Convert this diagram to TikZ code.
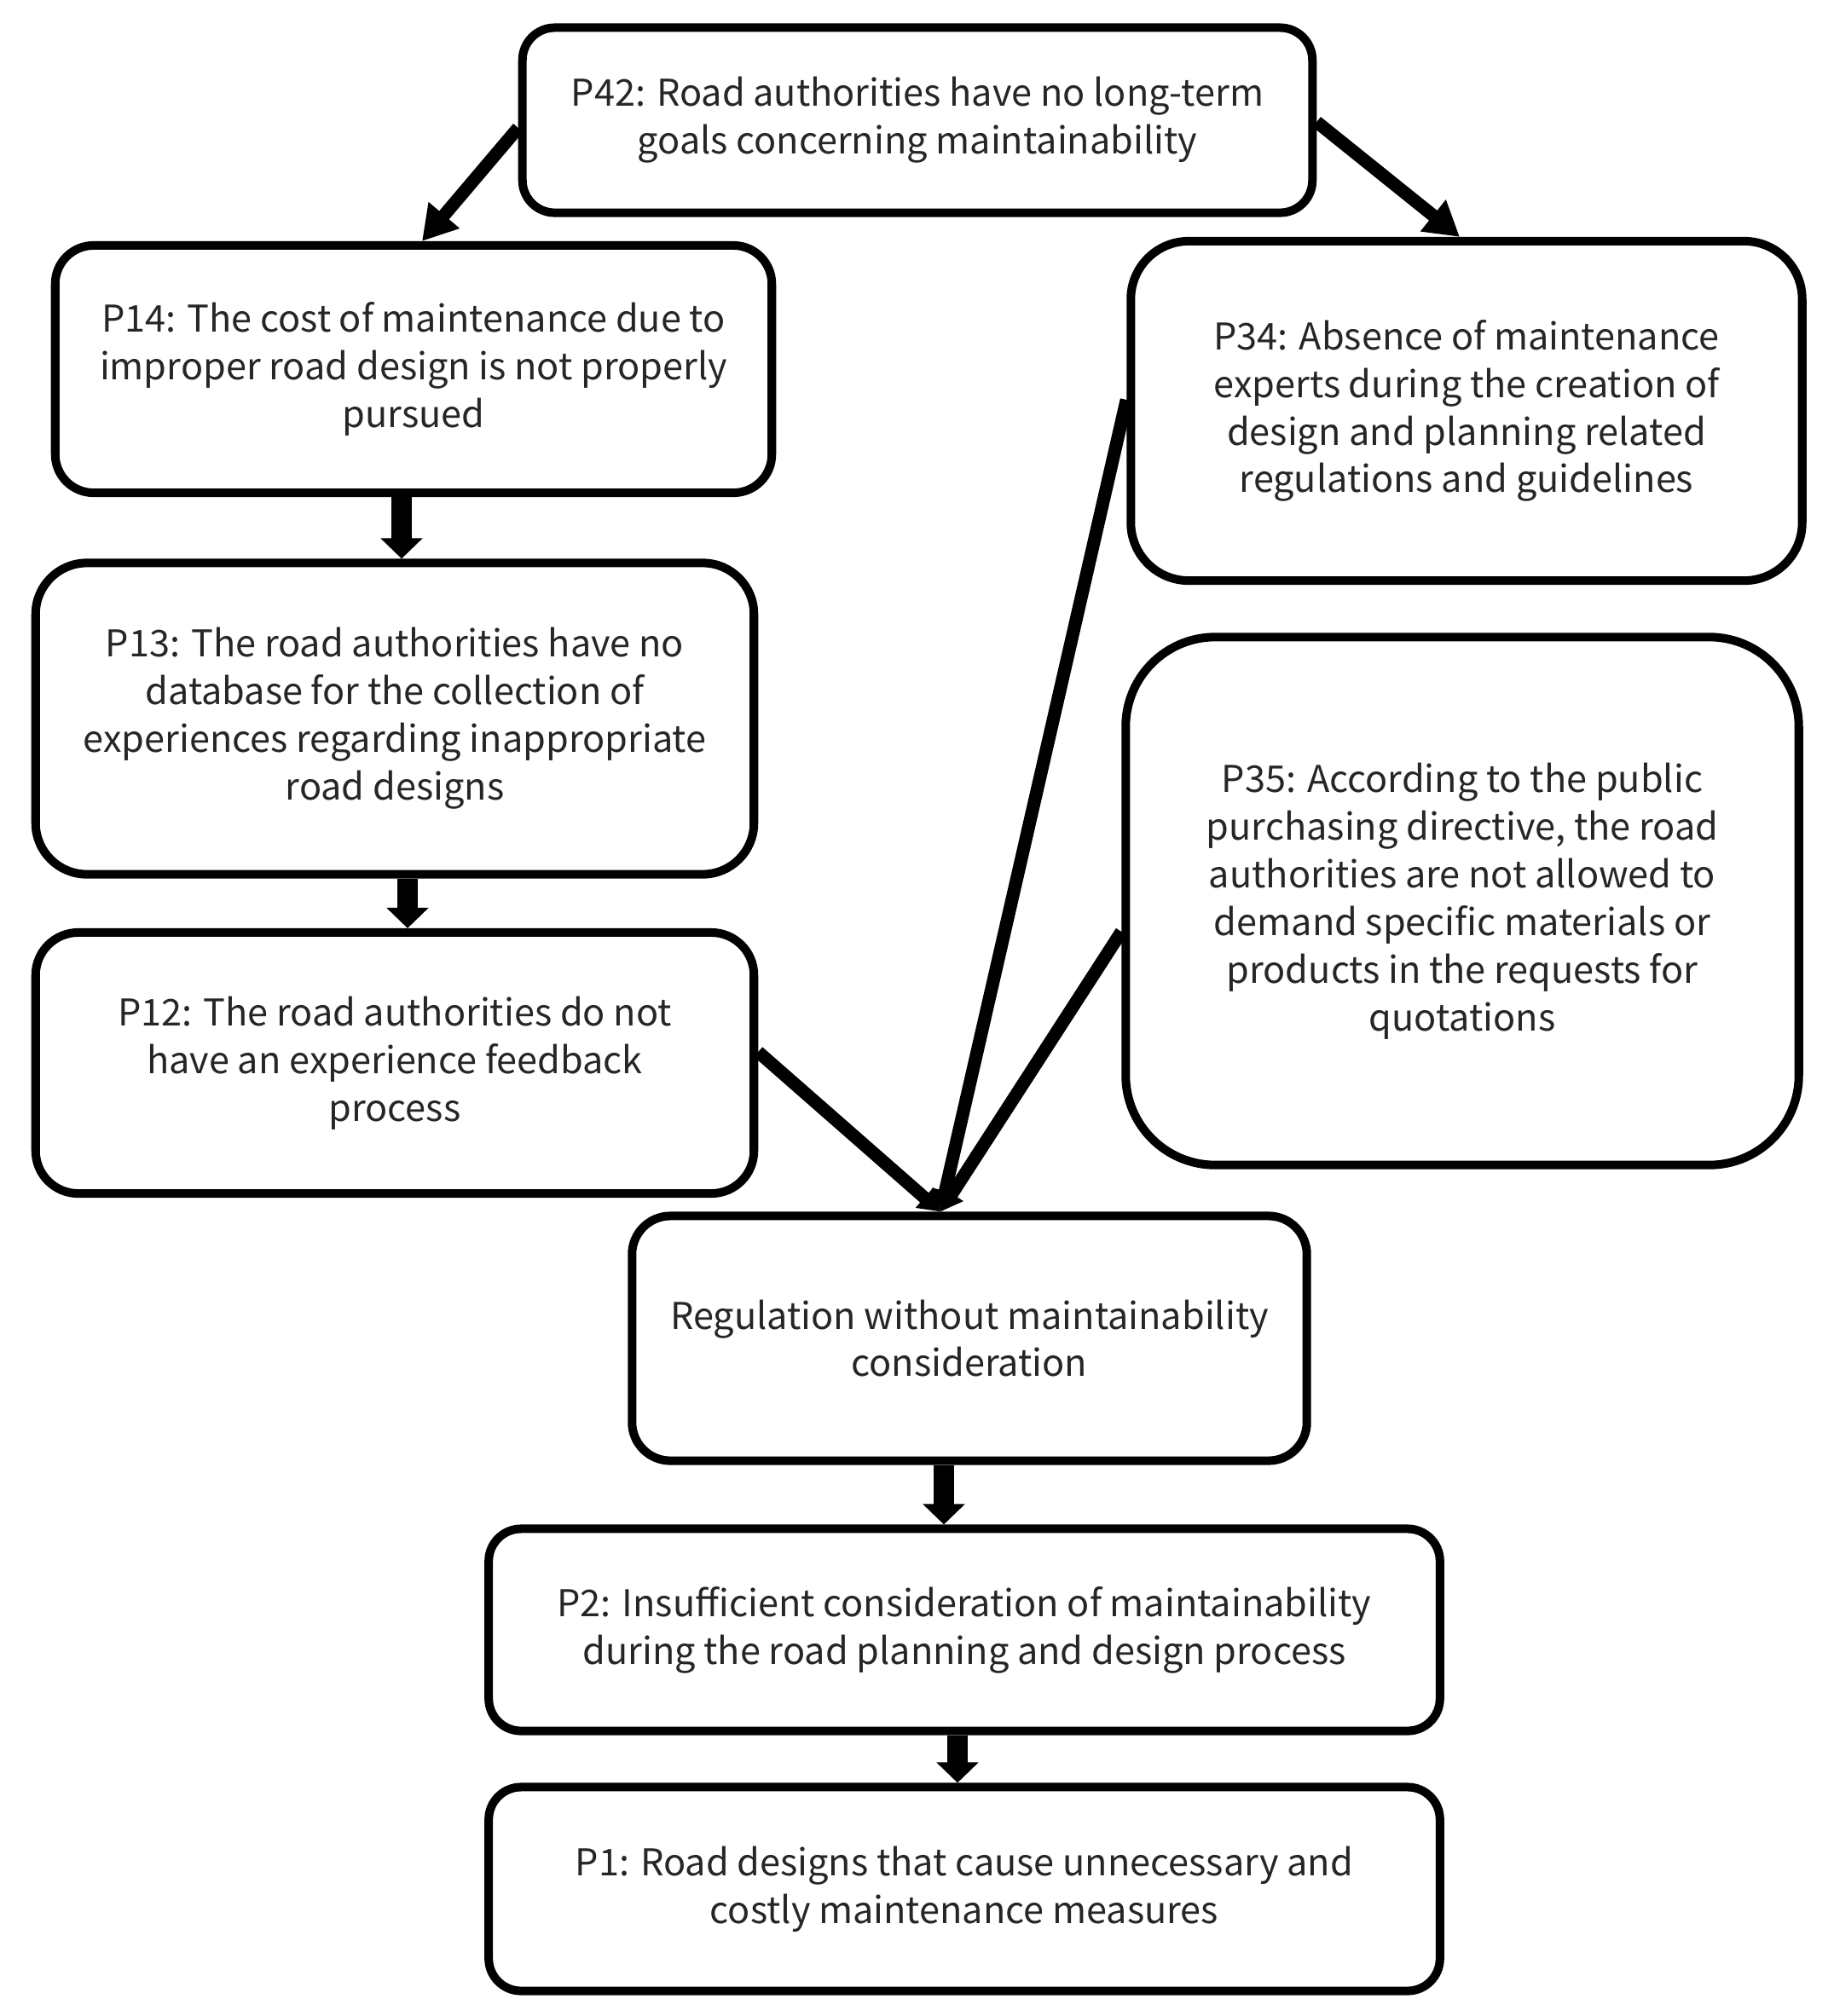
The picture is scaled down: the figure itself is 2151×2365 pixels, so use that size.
\documentclass[tikz,border=0pt]{standalone}
\usepackage{fontspec}
\setmainfont{Noto Sans CJK SC}
\usetikzlibrary{arrows.meta}
\begin{document}
\begin{tikzpicture}[x=0.01cm,y=-0.01cm,
  box/.style={draw=black, line width=2.85pt, rounded corners=#1, align=center, inner sep=0pt,
    font=\fontsize{12.3}{15.9}\selectfont, text=black!85},
  box/.default=0.45cm,
  bigarrow/.style={line width=7pt, -{Triangle[width=0.48cm,length=0.24cm]}},
  diag/.style={line width=4.3pt, -{Triangle[width=0.45cm,length=0.4cm]}},
  conv/.style={line width=4.3pt, -{Triangle[width=0.3cm,length=0.25cm]}}]
\useasboundingbox (0,0) rectangle (2151,2365);

\node[box=0.38cm, minimum width=9.26cm, minimum height=2.17cm] (P42) at (1076,141)
  {P42: Road authorities have no long-term\\goals concerning maintainability};
\node[box, minimum width=8.40cm, minimum height=2.90cm] (P14) at (485,433)
  {P14: The cost of maintenance due to\\improper road design is not properly\\pursued};
\node[box=0.68cm, minimum width=7.87cm, minimum height=3.98cm] (P34) at (1720,482)
  {P34: Absence of maintenance\\experts during the creation of\\design and planning related\\regulations and guidelines};
\node[box=0.6cm, minimum width=8.42cm, minimum height=3.65cm] (P13) at (463,843)
  {P13: The road authorities have no\\database for the collection of\\experiences regarding inappropriate\\road designs};
\node[box=1.05cm, minimum width=7.89cm, minimum height=6.19cm] (P35) at (1715,1057)
  {P35: According to the public\\purchasing directive, the road\\authorities are not allowed to\\demand specific materials or\\products in the requests for\\quotations};
\node[box=0.5cm, minimum width=8.42cm, minimum height=3.06cm] (P12) at (463,1247)
  {P12: The road authorities do not\\have an experience feedback\\process};
\node[box, minimum width=7.91cm, minimum height=2.87cm] (Reg) at (1137,1570)
  {Regulation without maintainability\\consideration};
\node[box=0.38cm, minimum width=11.15cm, minimum height=2.37cm] (P2) at (1131,1912)
  {P2: Insufficient consideration of maintainability\\during the road planning and design process};
\node[box=0.38cm, minimum width=11.15cm, minimum height=2.39cm] (P1) at (1131,2216)
  {P1: Road designs that cause unnecessary and\\costly maintenance measures};

% top diagonal arrows
\coordinate (a1) at (P42.west |- 0,150);
\coordinate (a2) at (P42.east |- 0,143);
\draw[diag] (a1) -- (P14.north -| 495,0);
\draw[diag] (a2) -- (P34.north -| 1712,0);

% vertical arrows
\draw[bigarrow] (P14.south -| 471,0) -- (P13.north -| 471,0);
\draw[bigarrow] (P13.south -| 478,0) -- (P12.north -| 478,0);
\draw[bigarrow] (Reg.south -| 1107,0) -- (P2.north -| 1107,0);
\draw[bigarrow] (P2.south -| 1123,0) -- (P1.north -| 1123,0);

% converging arrows
\coordinate (m) at (Reg.north -| 1103,0);
\draw[conv] (P12.east |- 0,1234) -- (m);
\draw[conv] (P34.west |- 0,469) -- (m);
\draw[conv] (P35.west |- 0,1093) -- (m);
\end{tikzpicture}
\end{document}
